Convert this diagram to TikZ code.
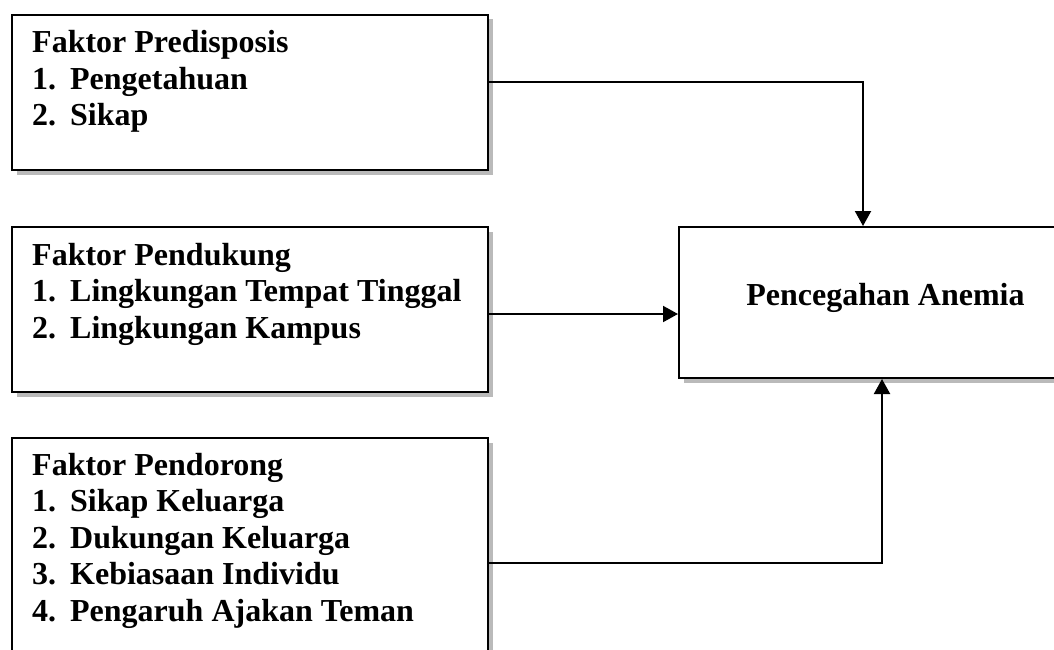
\documentclass[tikz,border=0pt]{standalone}
\usepackage{fontspec}
\setmainfont{Liberation Serif}
\usetikzlibrary{arrows.meta,shadows,calc}
\tikzset{
  box/.style={draw=black, line width=2pt, fill=white, rectangle, inner sep=0pt,
    anchor=north west,
    drop shadow={shadow xshift=4.5pt, shadow yshift=-4.5pt, fill=black!27, opacity=1}},
  txt/.style={inner sep=0pt, anchor=base west, font=\fontsize{32}{36.5}\selectfont\bfseries},
  arr/.style={line width=2pt, -{Triangle[length=15pt,width=16pt]}},
}
\newcommand{\itm}[2]{\makebox[38pt][l]{#1}#2}
\begin{document}
\begin{tikzpicture}[x=1pt,y=-1pt]
\useasboundingbox (0,0) rectangle (1054,650);
\clip (0,0) rectangle (1054,650);
% boxes
\node[box, minimum width=476pt, minimum height=155pt] (b1) at (11,14) {};
\node[box, minimum width=476pt, minimum height=165pt] (b2) at (11,226) {};
\node[box, minimum width=476pt, minimum height=260pt] (b3) at (11,437) {};
\node[box, minimum width=420pt, minimum height=151pt] (b4) at (678,226) {};
% texts
\node[txt] (t1) at (32,53) {\begin{tabular}[t]{@{}l@{}}Faktor Predisposis\\ \itm{1.}{Pengetahuan}\\ \itm{2.}{Sikap}\end{tabular}};
\node[txt] (t2) at (32,265) {\begin{tabular}[t]{@{}l@{}}Faktor Pendukung\\ \itm{1.}{Lingkungan Tempat Tinggal}\\ \itm{2.}{Lingkungan Kampus}\end{tabular}};
\node[txt] (t3) at (32,475) {\begin{tabular}[t]{@{}l@{}}Faktor Pendorong\\ \itm{1.}{Sikap Keluarga}\\ \itm{2.}{Dukungan Keluarga}\\ \itm{3.}{Kebiasaan Individu}\\ \itm{4.}{Pengaruh Ajakan Teman}\end{tabular}};
\node[txt, anchor=base] (t4) at (885.5,305) {Pencegahan Anemia};
% connectors
\draw[arr] ([yshift=-68pt]b1.north east) -| ([xshift=185pt]b4.north west);
\draw[arr] ([yshift=-88pt]b2.north east) coordinate (p2) -- (p2 -| b4.west);
\draw[arr] ([yshift=-126pt]b3.north east) -| ([xshift=204pt]b4.south west);
\end{tikzpicture}
\end{document}
